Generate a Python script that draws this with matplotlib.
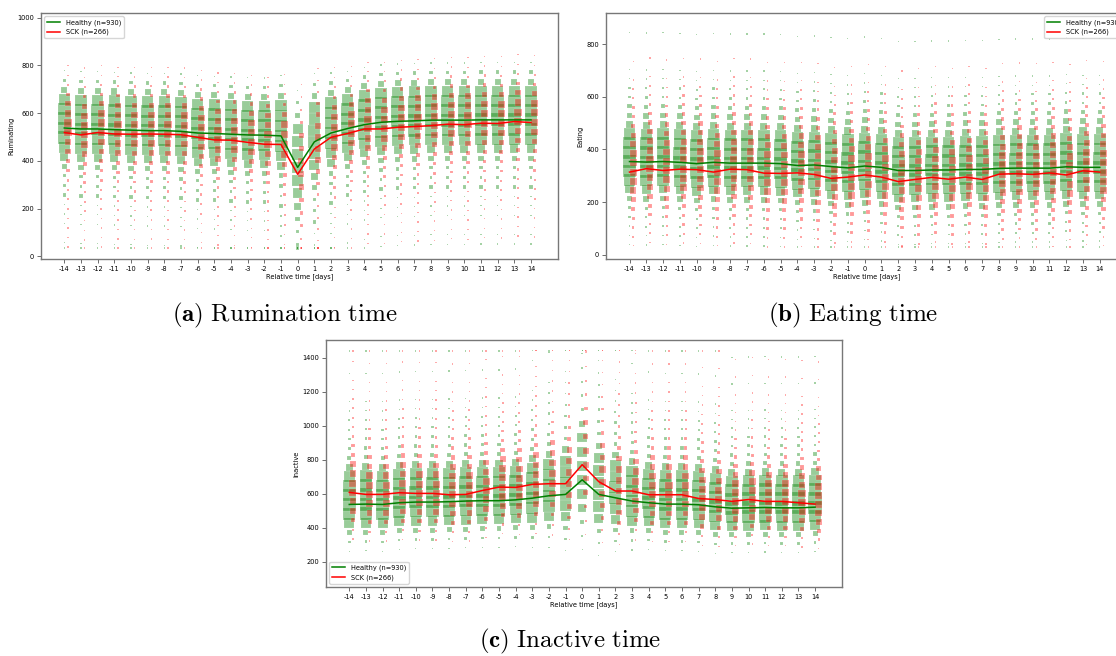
import matplotlib.pyplot as plt
import numpy as np

plt.rcParams["mathtext.fontset"] = "cm"

days = np.arange(-14, 15)
day_labels = [str(d) for d in days]

# daily mean minutes per group
rum_healthy_mean = [538, 534, 534, 531, 529, 527, 527, 524, 517, 515, 512, 509, 508, 505,
                    373, 480, 517, 536, 552, 562, 566, 568, 571, 571, 571, 572, 572, 572, 572]
rum_sck_mean = [519, 509, 519, 513, 512, 513, 512, 510, 499, 488, 487, 478, 470, 469,
                344, 450, 499, 515, 534, 534, 541, 544, 548, 554, 552, 558, 557, 565, 561]

eat_healthy_mean = [354, 352, 354, 351, 346, 351, 348, 348, 348, 346, 339, 341, 335, 330,
                    337, 332, 320, 320, 322, 322, 324, 324, 328, 329, 329, 329, 334, 332, 332]
eat_sck_mean = [314, 327, 320, 325, 323, 314, 325, 323, 310, 309, 311, 305, 290, 295,
                303, 295, 278, 286, 294, 287, 295, 286, 306, 308, 305, 311, 303, 319, 314]

ina_healthy_mean = [536, 538, 536, 546, 550, 550, 552, 556, 558, 558, 563, 573, 587, 595,
                    681, 595, 575, 556, 546, 538, 538, 534, 522, 514, 516, 518, 516, 516, 520]
ina_sck_mean = [607, 595, 595, 605, 601, 601, 593, 595, 618, 638, 636, 654, 658, 658,
                770, 670, 615, 615, 593, 593, 593, 571, 565, 554, 565, 554, 554, 546, 538]

# how wide each day's column is spread around its mean
rum_spread = [1.0] * 13 + [1.05, 1.35, 1.2, 1.05] + [1.0] * 12
eat_spread = [1.0] * 29
ina_spread = [1.0] * 11 + [1.05, 1.1, 1.2, 1.5, 1.3, 1.15, 1.05] + [1.0] * 5 + [0.95] * 6

# cows per value bin, listed from the lowest bin offset upwards
rum_healthy_counts = [1, 1, 0, 1, 1, 1, 8, 5, 6, 16, 40, 75, 92, 100, 100, 95, 80, 22, 7, 1, 0]
rum_sck_counts = [1, 1, 1, 1, 2, 2, 3, 4, 6, 10, 18, 26, 30, 30, 26, 16, 7, 3, 1, 1]
eat_healthy_counts = [1, 1, 2, 3, 6, 20, 45, 85, 95, 100, 100, 95, 80, 30, 20, 10, 4, 3,
                      1, 1, 0, 0, 0, 1]
eat_sck_counts = [1, 2, 4, 6, 10, 16, 24, 28, 30, 30, 28, 22, 16, 11, 7, 5, 3, 2, 1, 0, 1]
ina_healthy_counts = [1, 4, 15, 60, 90, 100, 100, 95, 80, 30, 10, 6, 4, 3, 2, 1, 1, 0, 0,
                      1, 0, 0, 1]
ina_sck_counts = [1, 3, 10, 20, 28, 30, 30, 26, 20, 12, 6, 4, 3, 2, 2, 1, 1, 1, 0, 1, 0, 1]

rum_healthy_bins = np.arange(-520, 281, 40)
rum_sck_bins = np.arange(-480, 281, 40)
eat_healthy_bins = np.arange(-315, 491, 35)
eat_sck_bins = np.arange(-280, 421, 35)
ina_healthy_bins = np.arange(-275, 936, 55)
ina_sck_bins = np.arange(-275, 881, 55)

FS = 4.8


def draw_panel(ax, healthy_mean, sck_mean, spread, healthy, sck, clip):
    groups = [(0.0, healthy_mean, healthy, "green"), (0.22, sck_mean, sck, "red")]
    for shift, means, (bins, counts), color in groups:
        xs, ys, ss = [], [], []
        for d, m, f in zip(days, means, spread):
            for off, c in zip(bins, counts):
                if c == 0:
                    continue
                xs.append(d + shift)
                ys.append(np.clip(m + off * f, clip[0], clip[1]))
                ss.append(0.85 * c / f)
        ax.scatter(xs, ys, s=ss, marker="s", c=color, alpha=0.4,
                   edgecolors="white", linewidths=0.25, zorder=2)
    ax.plot(days, healthy_mean, color="green", lw=1.1, label="Healthy (n=930)", zorder=3)
    ax.plot(days, sck_mean, color="red", lw=1.1, label="SCK (n=266)", zorder=3)
    ax.set_xticks(days)
    ax.set_xticklabels(day_labels)
    ax.set_xlim(-15.4, 15.62)
    ax.set_xlabel("Relative time [days]", fontsize=FS, labelpad=1)
    ax.tick_params(labelsize=FS, length=3, width=0.6, color="#555555", pad=2)
    for sp in ax.spines.values():
        sp.set_color("#777777")
        sp.set_linewidth(1.0)


W, H = 1116, 656
fig = plt.figure(figsize=(W / 100, H / 100), dpi=100)

ax_a = fig.add_axes([41 / W, 1 - 259 / H, 517 / W, 246 / H])
ax_b = fig.add_axes([606 / W, 1 - 259 / H, 521 / W, 246 / H])
ax_c = fig.add_axes([326 / W, 1 - 587 / H, 516 / W, 247 / H])

draw_panel(ax_a, rum_healthy_mean, rum_sck_mean, rum_spread,
           (rum_healthy_bins, rum_healthy_counts), (rum_sck_bins, rum_sck_counts), (35, 960))
ax_a.set_ylim(-11, 1020)
ax_a.set_yticks(np.arange(0, 1001, 200))
ax_a.set_ylabel("Ruminating", fontsize=FS, labelpad=2)
ax_a.legend(loc="upper left", fontsize=FS)

draw_panel(ax_b, eat_healthy_mean, eat_sck_mean, eat_spread,
           (eat_healthy_bins, eat_healthy_counts), (eat_sck_bins, eat_sck_counts), (30, 880))
ax_b.set_ylim(-16, 918)
ax_b.set_yticks(np.arange(0, 801, 200))
ax_b.set_ylabel("Eating", fontsize=FS, labelpad=2)
ax_b.legend(loc="upper right", fontsize=FS)

draw_panel(ax_c, ina_healthy_mean, ina_sck_mean, ina_spread,
           (ina_healthy_bins, ina_healthy_counts), (ina_sck_bins, ina_sck_counts), (110, 1440))
ax_c.set_ylim(50, 1504)
ax_c.set_yticks(np.arange(200, 1401, 200))
ax_c.set_ylabel("Inactive", fontsize=FS, labelpad=2)
ax_c.legend(loc="lower left", fontsize=FS)

fig.text(285 / W, 1 - 315 / H, r"$\mathbf{(a)}\ \mathrm{Rumination\ time}$",
         ha="center", va="center", fontsize=18)
fig.text(853 / W, 1 - 315 / H, r"$\mathbf{(b)}\ \mathrm{Eating\ time}$",
         ha="center", va="center", fontsize=18)
fig.text(570 / W, 1 - 641 / H, r"$\mathbf{(c)}\ \mathrm{Inactive\ time}$",
         ha="center", va="center", fontsize=18)

fig.savefig("out.png", dpi=100)
